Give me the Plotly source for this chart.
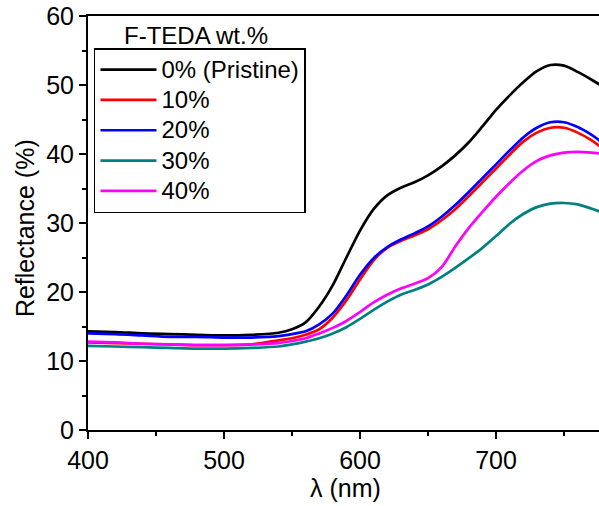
import plotly.graph_objects as go

wavelength = [400, 420, 440, 460, 480, 500, 520, 540, 550, 560, 570, 580, 590, 600,
              610, 620, 630, 640, 650, 660, 670, 680, 690, 700, 710, 720, 730, 740,
              750, 760, 770, 780]

r_pristine = [14.3, 14.2, 14.0, 13.9, 13.8, 13.7, 13.8, 14.1, 14.6, 15.6, 17.9, 21.0, 25.0, 28.9,
              32.0, 34.0, 35.1, 35.9, 36.9, 38.2, 39.8, 41.7, 44.0, 46.4, 48.5, 50.4, 52.0, 52.9,
              52.8, 51.9, 50.8, 49.6]
r_10 = [12.7, 12.6, 12.5, 12.4, 12.3, 12.3, 12.4, 13.0, 13.3, 13.8, 14.6, 16.3, 18.8, 21.8,
        24.6, 26.4, 27.4, 28.2, 29.1, 30.4, 32.0, 33.9, 35.9, 37.9, 39.9, 41.8, 43.1, 43.8,
        43.8, 43.1, 42.0, 40.6]
r_20 = [14.0, 13.9, 13.7, 13.5, 13.5, 13.4, 13.4, 13.6, 13.9, 14.3, 15.3, 16.9, 19.5, 22.5,
        24.9, 26.5, 27.6, 28.5, 29.5, 30.9, 32.6, 34.5, 36.5, 38.5, 40.5, 42.4, 43.8, 44.6,
        44.6, 43.9, 42.8, 41.4]
r_30 = [12.2, 12.1, 12.0, 11.9, 11.8, 11.8, 11.9, 12.1, 12.4, 12.8, 13.3, 14.0, 14.9, 16.1,
        17.4, 18.6, 19.6, 20.3, 21.1, 22.2, 23.5, 24.9, 26.4, 28.1, 29.9, 31.3, 32.3, 32.8,
        32.9, 32.7, 32.1, 31.4]
r_40 = [12.8, 12.7, 12.5, 12.4, 12.3, 12.3, 12.4, 12.6, 12.9, 13.3, 14.0, 14.8, 15.8, 17.1,
        18.5, 19.6, 20.5, 21.2, 22.0, 23.6, 26.6, 29.3, 31.6, 33.8, 35.8, 37.6, 39.0, 39.8,
        40.2, 40.3, 40.2, 40.0]

series_names = ["0% (Pristine)", "10%", "20%", "30%", "40%"]
series_values = [r_pristine, r_10, r_20, r_30, r_40]
series_colors = ["#000000", "#FF0000", "#0000FF", "#008080", "#FF00FF"]

FONT = "Liberation Sans, Arial, sans-serif"
FS = 25

fig = go.Figure()
for name, vals, col in zip(series_names, series_values, series_colors):
    fig.add_trace(go.Scatter(x=wavelength, y=vals, mode="lines",
                             name='<span style="font-size:24px">' + name + '</span>',
                             line=dict(color=col, width=2.7, shape="spline", smoothing=0.8)))

axis_common = dict(showline=True, linecolor="black", linewidth=2, ticks="outside",
                   ticklen=7, tickwidth=2, tickcolor="black", showgrid=False, zeroline=False,
                   automargin=False,
                   tickfont=dict(family=FONT, size=FS, color="black"))

fig.update_layout(
    width=599, height=506,
    margin=dict(l=88, r=0, t=16, b=76),
    paper_bgcolor="white", plot_bgcolor="white",
    font=dict(family=FONT, size=FS, color="black"),
    xaxis=dict(range=[400, 775.7], tickvals=[400, 500, 600, 700], mirror=True,
               minor=dict(ticks="outside", ticklen=4, tickwidth=2, tickcolor="black",
                          tickvals=[450, 550, 650, 750]),
               **axis_common),
    yaxis=dict(range=[0, 60], tickvals=[0, 10, 20, 30, 40, 50, 60],
               minor=dict(ticks="outside", ticklen=4, tickwidth=2, tickcolor="black",
                          tickvals=[5, 15, 25, 35, 45, 55]),
               **axis_common),
    legend=dict(x=0.0117, y=0.9227, xanchor="left", yanchor="top",
                bordercolor="black", borderwidth=1.5, bgcolor="white",
                font=dict(family=FONT, size=21, color="black"),
                tracegroupgap=0, itemwidth=56),
    showlegend=True,
    annotations=[
        dict(text="F-TEDA wt.%", x=0.211, y=0.952, xref="paper", yref="paper",
             xanchor="center", yanchor="middle", showarrow=False,
             font=dict(family=FONT, size=24, color="black")),
        dict(text="λ (nm)", x=0.503, y=-0.140, xref="paper", yref="paper",
             xanchor="center", yanchor="middle", showarrow=False,
             font=dict(family=FONT, size=FS, color="black")),
        dict(text="Reflectance (%)", x=-0.123, y=0.488, xref="paper", yref="paper",
             xanchor="center", yanchor="middle", showarrow=False, textangle=-90,
             font=dict(family=FONT, size=FS, color="black")),
    ],
)

fig.write_html("out.html", config={"displayModeBar": False},
               post_script="document.body.style.margin='0';document.body.style.padding='0';")
